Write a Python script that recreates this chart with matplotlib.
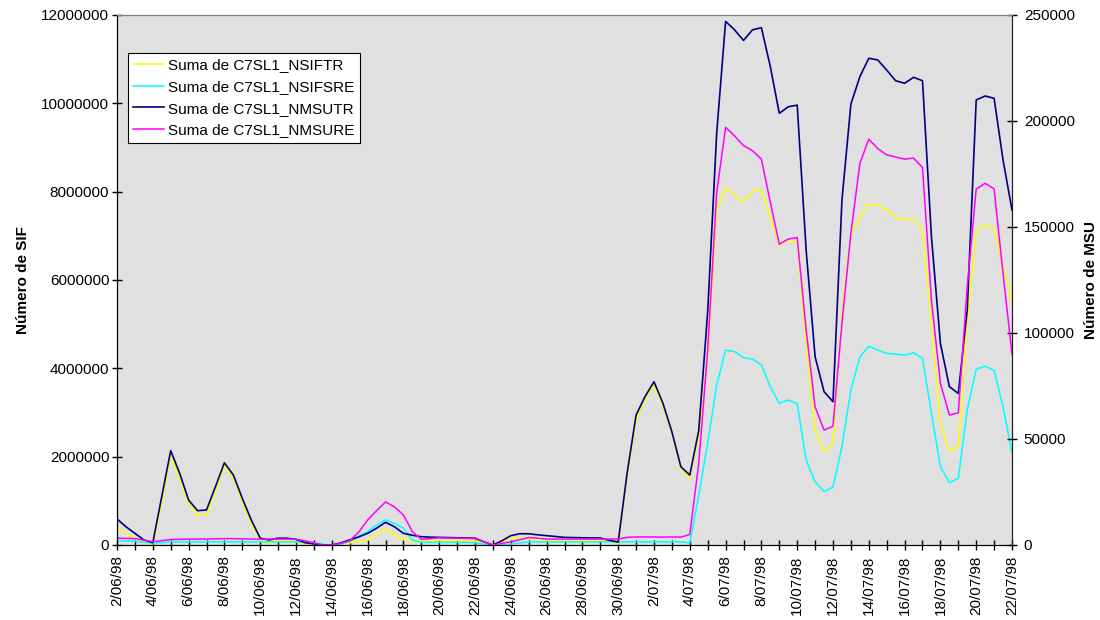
import numpy as np
import pandas as pd
import matplotlib
matplotlib.use("Agg")
import matplotlib.pyplot as plt
from matplotlib.ticker import FuncFormatter, MultipleLocator

plt.rcParams['font.family'] = ['Liberation Sans', 'DejaVu Sans']
plt.rcParams['lines.solid_joinstyle'] = 'round'

# twice-daily samples starting 2/06/98
start_date = "1998-06-02"
end_date = "1998-07-22"

# SIF counts (millions)
nsiftr = [0.414, 0.265, 0.15, 0.05, 0.02, 0.94, 2.04, 1.51, 0.94, 0.68,
          0.68, 1.21, 1.79, 1.51, 0.98, 0.49, 0.11, 0.02, 0.10, 0.10,
          0.08, 0.03, 0.0, 0.0, 0.0, 0.02, 0.05, 0.08, 0.11, 0.25,
          0.36, 0.23, 0.13, 0.08, 0.09, 0.10, 0.10, 0.10, 0.10, 0.10,
          0.09, 0.04, 0.0, 0.07, 0.15, 0.17, 0.15, 0.12, 0.11, 0.11,
          0.11, 0.11, 0.11, 0.11, 0.11, 0.08, 0.02, 1.52, 2.83, 3.28,
          3.62, 3.15, 2.51, 1.72, 1.51, 2.45, 4.26, 7.58, 8.09, 7.92,
          7.77, 8.0, 8.04, 7.43, 6.79, 6.9, 6.85, 4.57, 2.6, 2.11,
          2.3, 5.25, 7.02, 7.43, 7.72, 7.7, 7.58, 7.43, 7.36, 7.4,
          7.13, 5.02, 2.76, 2.11, 2.23, 5.02, 7.15, 7.24, 7.17, 6.3,
          5.5]
nsifsre = [0.10, 0.09, 0.08, 0.06, 0.04, 0.05, 0.07, 0.07, 0.07, 0.07,
           0.07, 0.07, 0.07, 0.07, 0.07, 0.07, 0.07, 0.07, 0.07, 0.07,
           0.07, 0.07, 0.05, 0.02, 0.0, 0.02, 0.08, 0.20, 0.30, 0.45,
           0.57, 0.49, 0.38, 0.11, 0.06, 0.06, 0.06, 0.06, 0.06, 0.06,
           0.05, 0.02, 0.0, 0.01, 0.02, 0.05, 0.07, 0.07, 0.07, 0.07,
           0.07, 0.07, 0.07, 0.07, 0.07, 0.07, 0.07, 0.07, 0.07, 0.07,
           0.07, 0.07, 0.07, 0.07, 0.05, 1.13, 2.3, 3.62, 4.41, 4.38,
           4.24, 4.21, 4.08, 3.58, 3.21, 3.28, 3.2, 1.92, 1.43, 1.21,
           1.31, 2.23, 3.51, 4.26, 4.5, 4.41, 4.34, 4.32, 4.3, 4.35,
           4.23, 2.98, 1.77, 1.41, 1.51, 3.06, 3.98, 4.05, 3.95, 3.13,
           2.08]

# MSU counts (thousands)
nmsutr = [12.3, 8.6, 5.5, 2.4, 1.1, 22.8, 44.5, 33.8, 21.2, 16.2,
          16.5, 27.5, 38.8, 33.0, 22.0, 11.8, 3.2, 2.4, 3.2, 3.2,
          2.7, 1.1, 0.5, 0.0, 0.0, 1.0, 2.4, 3.8, 5.5, 7.9,
          10.7, 8.6, 5.5, 4.6, 3.9, 3.7, 3.6, 3.5, 3.4, 3.3,
          3.2, 1.5, 0.0, 2.0, 4.4, 5.3, 5.3, 4.8, 4.4, 4.0,
          3.6, 3.5, 3.4, 3.3, 3.3, 2.2, 1.4, 34.0, 61.3, 70.0,
          77.0, 66.8, 53.4, 36.9, 33.0, 54.0, 110, 194, 247, 243,
          238, 243, 244, 225.6, 203.6, 206.7, 207.5, 139, 88.8, 72.3,
          67.6, 162.7, 208, 220.9, 229.6, 228.8, 224, 219, 217.8, 220.6,
          219, 145.4, 95.1, 74.7, 71.5, 110.8, 209.9, 211.8, 210.7, 181.6,
          158]
nmsure = [3.2, 3.1, 3.0, 2.3, 1.6, 2.0, 2.6, 2.7, 2.8, 2.8,
          2.8, 2.9, 3.0, 3.0, 2.9, 2.8, 2.8, 2.8, 2.8, 2.8,
          2.7, 2.0, 1.0, 0.0, 0.0, 0.8, 2.0, 6.0, 11.8, 16.2,
          20.3, 18.0, 14.2, 6.3, 2.7, 3.0, 3.4, 3.3, 3.2, 3.1,
          3.0, 1.5, 0.0, 0.8, 1.5, 2.5, 3.5, 3.2, 2.8, 2.8,
          2.8, 2.8, 2.8, 2.8, 2.8, 2.8, 2.8, 3.6, 3.8, 3.8,
          3.8, 3.7, 3.8, 3.7, 5.0, 38.5, 92, 166, 197, 193,
          188.4, 186, 182, 161.6, 141.9, 144.3, 145, 101.4, 65.2, 54.2,
          56, 104.6, 147, 180, 191.4, 187, 184, 183, 182, 182.5,
          178, 115.6, 76.3, 61.3, 62.3, 122, 167.9, 170.6, 168, 128,
          90]

labels = ["Suma de C7SL1_NSIFTR", "Suma de C7SL1_NSIFSRE",
          "Suma de C7SL1_NMSUTR", "Suma de C7SL1_NMSURE"]
colors = ["#FFFF00", "#00FFFF", "#000080", "#FF00FF"]

dates = pd.date_range(start_date, end_date, freq="D")
date_labels = [f"{d.day}/{d.month:02d}/{d.year % 100:02d}" for d in dates]
t = np.arange(len(nsiftr)) / 2.0  # days since start

fig = plt.figure(figsize=(11, 6.2), dpi=100)
ax = fig.add_axes([117 / 1100, 75 / 620, 895 / 1100, 530 / 620])
ax.set_facecolor("#E0E0E0")
ax2 = ax.twinx()

l1, = ax.plot(t, np.array(nsiftr) * 1e6, color=colors[0], lw=1.1, label=labels[0])
l2, = ax.plot(t, np.array(nsifsre) * 1e6, color=colors[1], lw=1.1, label=labels[1])
l3, = ax2.plot(t, np.array(nmsutr) * 1e3, color=colors[2], lw=1.2, label=labels[2])
l4, = ax2.plot(t, np.array(nmsure) * 1e3, color=colors[3], lw=1.1, label=labels[3])

ax.set_xlim(0, len(dates) - 1)
ax.set_ylim(0, 12000000)
ax2.set_ylim(0, 250000)

ax.set_xticks(np.arange(0, len(dates), 2))
ax.set_xticklabels(date_labels[::2], rotation=90)
ax.xaxis.set_minor_locator(MultipleLocator(1))
ax.yaxis.set_major_locator(MultipleLocator(2000000))
ax2.yaxis.set_major_locator(MultipleLocator(50000))
plain = FuncFormatter(lambda v, p: f"{int(round(v))}")
ax.yaxis.set_major_formatter(plain)
ax2.yaxis.set_major_formatter(plain)

ax.tick_params(axis="x", which="both", direction="inout", length=7, width=1, pad=4, labelsize=11)
ax.tick_params(axis="y", direction="inout", length=7, width=1, pad=2, labelsize=11)
ax2.tick_params(axis="y", direction="inout", length=7, width=1, pad=5, labelsize=11)

for a in (ax, ax2):
    a.spines["top"].set_color("#808080")
    a.spines["left"].set_color("black")
    a.spines["bottom"].set_color("black")
    a.spines["right"].set_color("#202020")

ax.set_ylabel("Número de SIF", fontsize=11, fontweight="bold")
ax.yaxis.set_label_coords(-0.097, 0.5)
ax2.set_ylabel("Número de MSU", fontsize=11, fontweight="bold")
ax2.yaxis.set_label_coords(1.081, 0.5)

leg = ax2.legend([l1, l2, l3, l4], labels, loc="upper left",
                 bbox_to_anchor=(0.0123, 0.928), borderaxespad=0,
                 fontsize=11, handlelength=2.0, handletextpad=0.3,
                 labelspacing=0.5, borderpad=0.35, fancybox=False,
                 framealpha=1, edgecolor="black")
leg.get_frame().set_linewidth(0.8)

plt.savefig("out.png", dpi=100)
